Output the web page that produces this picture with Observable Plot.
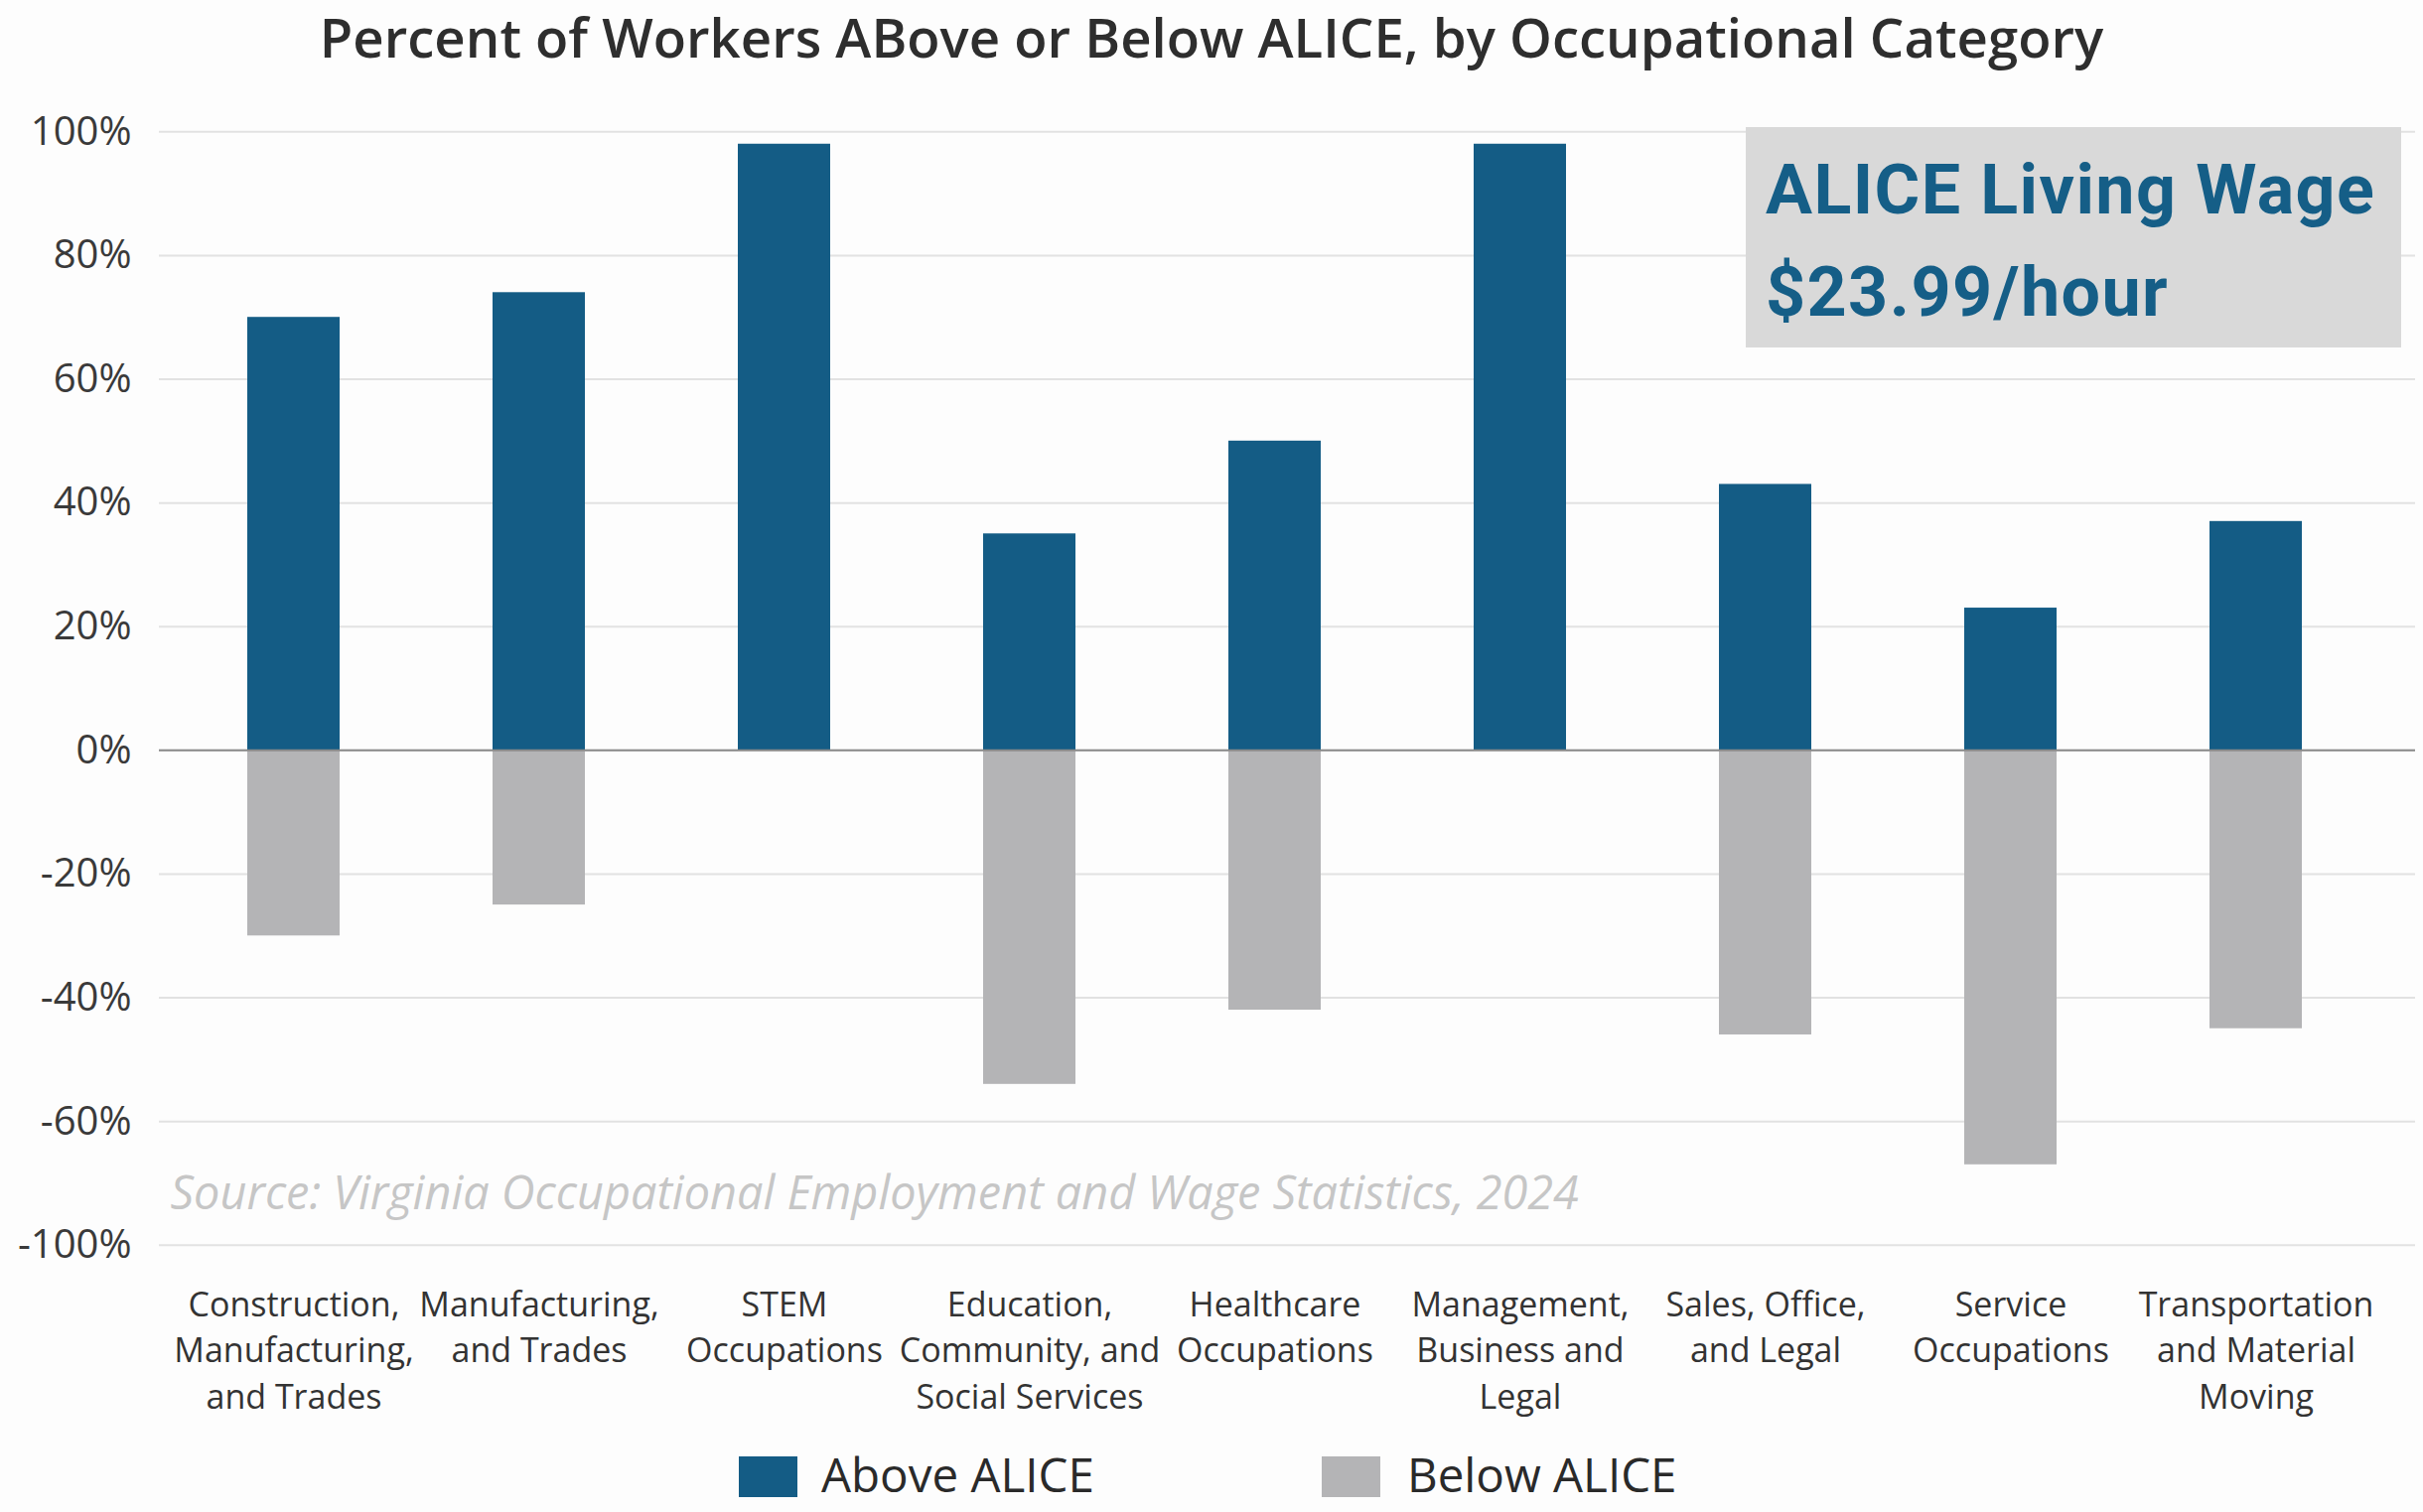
<!DOCTYPE html>
<html>
<head>
<meta charset="utf-8">
<script src="https://cdn.jsdelivr.net/npm/d3@7"></script>
<script src="https://cdn.jsdelivr.net/npm/@observablehq/plot@0.6"></script>
<style>
  html, body { margin: 0; padding: 0; background: #fdfdfd; }
  #page { position: relative; width: 2440px; height: 1523px; overflow: hidden; background: #fdfdfd; font-family: "Open Sans", sans-serif; }
  #title { height: 80px; line-height: 74px; font-size: 54.5px; font-weight: 600; color: #2e2e2e; text-align: center; white-space: nowrap; }
  #chart svg { display: block; }
  #box { position: absolute; left: 1758px; top: 128px; width: 660px; height: 222px; background: #d9d9d9; }
  #box div { position: absolute; left: 20px; font-family: Roboto, sans-serif; font-weight: 700; font-size: 70px; line-height: 70px; letter-spacing: 1.4px; color: #155e87; white-space: nowrap; }
  #legend { position: absolute; left: 0; top: 1440px; width: 2440px; height: 83px; }
  .sw { position: absolute; top: 27px; width: 59px; height: 41px; }
  .lab { position: absolute; top: 21px; font-size: 47.5px; line-height: 47.5px; color: #2a2a2a; white-space: nowrap; }
</style>
</head>
<body>
<div id="page">
  <div id="title"></div>
  <div id="chart"></div>
  <div id="box"></div>
  <div id="legend"></div>
</div>
<script>
// ---- data ----
const titleText = "Percent of Workers ABove or Below ALICE, by Occupational Category";
const categories = [
  "Construction, Manufacturing, and Trades",
  "Manufacturing, and Trades",
  "STEM Occupations",
  "Education, Community, and Social Services",
  "Healthcare Occupations",
  "Management, Business and Legal",
  "Sales, Office, and Legal",
  "Service Occupations",
  "Transportation and Material Moving"
];
const categoryLabels = [
  "Construction,\nManufacturing,\nand Trades",
  "Manufacturing,\nand Trades",
  "STEM\nOccupations",
  "Education,\nCommunity, and\nSocial Services",
  "Healthcare\nOccupations",
  "Management,\nBusiness and\nLegal",
  "Sales, Office,\nand Legal",
  "Service\nOccupations",
  "Transportation\nand Material\nMoving"
];
const series = ["Above ALICE", "Below ALICE"];
const seriesColors = ["#145c85", "#b4b4b6"];
const aboveAlice = [70, 74, 98, 35, 50, 98, 43, 23, 37];
const belowAlice = [30, 25, 0, 54, 42, 0, 46, 67, 45];
const tickValues = [100, 80, 60, 40, 20, 0, -20, -40, -60, -80];
const tickLabels = ["100%", "80%", "60%", "40%", "20%", "0%", "-20%", "-40%", "-60%", "-100%"];
const sourceNote = "Source: Virginia Occupational Employment and Wage Statistics, 2024";
const boxLines = ["ALICE Living Wage", "$23.99/hour"];

// ---- build table ----
const rows = [];
categories.forEach((c, i) => {
  rows.push({category: c, series: series[0], value: aboveAlice[i]});
  rows.push({category: c, series: series[1], value: -belowAlice[i]});
});

document.getElementById("title").textContent = titleText;

const W = 2440, H = 1360;
const chart = Plot.plot({
  width: W,
  height: H,
  marginTop: 52.3,
  marginBottom: 186.2,
  marginLeft: 160,
  marginRight: 8,
  style: {fontFamily: "Open Sans, sans-serif", background: "transparent", overflow: "visible"},
  x: {domain: categories, paddingInner: 0.623, paddingOuter: 0.397, align: 0.44, label: null},
  y: {domain: [-80, 100], nice: false, label: null},
  color: {domain: series, range: seriesColors},
  marks: [
    Plot.gridY(tickValues, {stroke: "#e2e2e2", strokeOpacity: 1, strokeWidth: 2}),
    Plot.barY(rows, {x: "category", y: "value", fill: "series"}),
    Plot.ruleY([0], {stroke: "#8a8a8a", strokeWidth: 2}),
    Plot.axisY({
      ticks: tickValues,
      tickFormat: (d) => tickLabels[tickValues.indexOf(d)],
      tickSize: 0, tickPadding: 28, fontSize: 40, color: "#3a3a3a", label: null
    }),
    Plot.axisX({
      tickFormat: (d) => categoryLabels[categories.indexOf(d)],
      tickSize: 0, tickPadding: 38.5, fontSize: 34, lineHeight: 1.368,
      color: "#333333", label: null
    }),
    Plot.text([sourceNote], {
      text: (d) => d, frameAnchor: "bottom-left", textAnchor: "start", lineAnchor: "bottom",
      dx: 11, dy: -36.8, fontSize: 46.8, fontStyle: "italic", fill: "#c6c6c6"
    })
  ]
});
document.getElementById("chart").appendChild(chart);

// ---- annotation box ----
const box = document.getElementById("box");
boxLines.forEach((t, i) => {
  const d = document.createElement("div");
  d.textContent = t;
  d.style.top = (i === 0 ? 28 : 131) + "px";
  box.appendChild(d);
});

// ---- legend from the color scale ----
const colorScale = chart.scale("color");
const legend = document.getElementById("legend");
const swatchLeft = [744, 1331];
const labelLeft = [827, 1417];
series.forEach((s, i) => {
  const sw = document.createElement("div");
  sw.className = "sw";
  sw.style.left = swatchLeft[i] + "px";
  sw.style.background = colorScale.apply(s);
  const lab = document.createElement("div");
  lab.className = "lab";
  lab.style.left = labelLeft[i] + "px";
  lab.textContent = s;
  legend.appendChild(sw);
  legend.appendChild(lab);
});
</script>
</body>
</html>
